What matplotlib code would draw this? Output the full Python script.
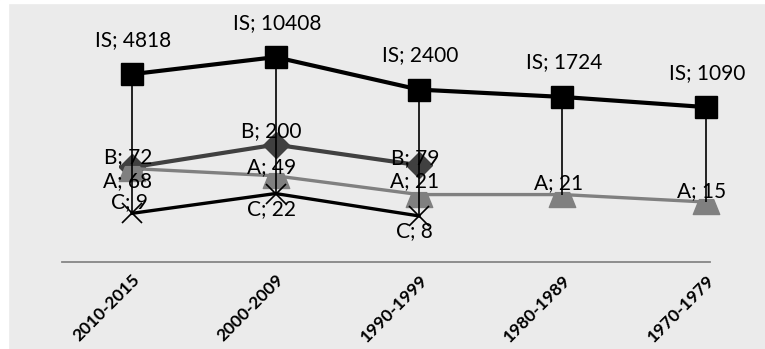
import matplotlib
matplotlib.use('Agg')
import matplotlib.pyplot as plt
from matplotlib.patches import Rectangle

# Decades on the x axis, newest first
periods = ['2010-2015', '2000-2009', '1990-1999', '1980-1989', '1970-1979']

# Counts per series (None where a series has no value)
IS_values = [4818, 10408, 2400, 1724, 1090]
B_values = [72, 200, 79, None, None]
A_values = [68, 49, 21, 21, 15]
C_values = [9, 22, 8, None, None]

bg = '#ebebeb'
plt.rcParams['font.family'] = ['Lato', 'DejaVu Sans']

fig = plt.figure(figsize=(7.65, 3.49), dpi=100)
fig.patch.set_facecolor(bg)
# thin white margin on the left and top edge
fig.patches.append(Rectangle((0, 0), 8 / 765, 1, transform=fig.transFigure, color='white', zorder=0))
fig.patches.append(Rectangle((0, 1 - 3 / 349), 1, 3 / 349, transform=fig.transFigure, color='white', zorder=0))

ax = fig.add_axes([61.7 / 765, 87 / 349, 648.6 / 765, 255 / 349])
ax.set_facecolor(bg)
ax.set_yscale('log')
ax.set_ylim(1, 100000)
ax.set_xlim(-0.49, 4.03)

x = list(range(len(periods)))

# flat trapezoid marker for series A, sitting just under the line
trap = [(-0.3, 0.12), (0.3, 0.12), (0.55, -0.5), (-0.55, -0.5), (-0.3, 0.12)]


def pts(vals):
    return [(i, v) for i, v in zip(x, vals) if v is not None]


series = [
    ('IS', IS_values, dict(color='black', lw=3, marker='s', ms=16, zorder=5)),
    ('B', B_values, dict(color='#404040', lw=3, marker='D', ms=13, zorder=3)),
    ('A', A_values, dict(color='#808080', lw=2.4, marker=trap, ms=19, zorder=3)),
    ('C', C_values, dict(color='black', lw=2.4, marker='x', ms=15, mew=1.2, zorder=3)),
]

for name, vals, style in series:
    p = pts(vals)
    ax.plot([a for a, b in p], [b for a, b in p], clip_on=False, **style)

# high-low lines from IS down to the lowest series in each period
lows = []
for i in x:
    col = [s[1][i] for s in series if s[1][i] is not None]
    lows.append(min(col))
ax.vlines(x, lows, IS_values, color='black', lw=1.2, zorder=4, clip_on=False)

# label offsets in points (dx, dy from the point to the text baseline)
label_offsets = {
    'IS': [(1, 20.5)] * 5,
    'B': [(-3, 3.2), (-3, 5.4), (-3, 1.1)],
    'A': [(-3, -13.3), (-3, 1.8), (-3, 5.4), (-3, 4), (-3, 3.2)],
    'C': [(-2, 4), (-3, -15.5), (-3, -15.5)],
}
for name, vals, style in series:
    for (i, v), off in zip(pts(vals), label_offsets[name]):
        ax.annotate('%s; %d' % (name, v), (i, v), xytext=off, textcoords='offset points',
                    ha='center', va='baseline', fontsize=15, color='black', zorder=6)

ax.set_xticks(x)
ax.set_xticklabels(periods, rotation=45, ha='right', va='top', rotation_mode='anchor',
                   fontsize=12.5, fontweight='bold')
ax.tick_params(axis='x', length=0, pad=7)
ax.set_yticks([])
ax.yaxis.set_minor_locator(matplotlib.ticker.NullLocator())

for side in ['top', 'left', 'right']:
    ax.spines[side].set_visible(False)
ax.spines['bottom'].set_color('#868686')
ax.spines['bottom'].set_linewidth(1.3)

fig.savefig('out.png', dpi=100, facecolor=bg)
